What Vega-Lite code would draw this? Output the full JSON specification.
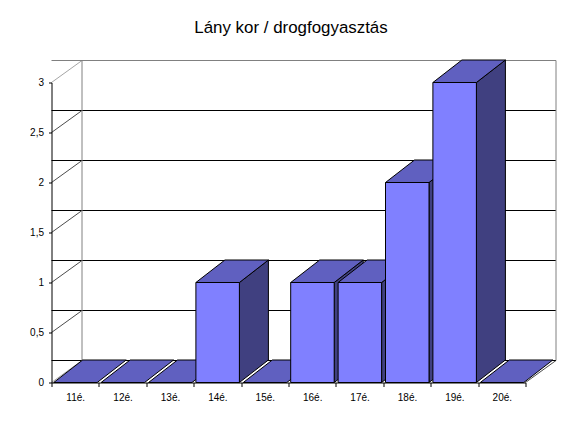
{
"$schema":"https://vega.github.io/schema/vega-lite/v6.json",
"width":474,"height":300,
"autosize":{"type":"none"},
"padding":{"left":51.5,"top":82.5,"right":59.5,"bottom":44.5},
"background":"white",
"title":{"text":"Lány kor / drogfogyasztás","font":"Liberation Sans","fontSize":16.9,"fontWeight":"normal","color":"#000000","anchor":"middle","dx":2.5,"offset":21},
"config":{"view":{"stroke":null}},
"datasets":{
"bars":[{"age":"11é.","value":0},{"age":"12é.","value":0},{"age":"13é.","value":0},{"age":"14é.","value":1},{"age":"15é.","value":0},{"age":"16é.","value":1},{"age":"17é.","value":1},{"age":"18é.","value":2},{"age":"19é.","value":3},{"age":"20é.","value":0}],
"grid":[{"v":0},{"v":0.5},{"v":1},{"v":1.5},{"v":2},{"v":2.5},{"v":3}]
},
"encoding":{
"x":{"field":"age","type":"nominal","title":null,"scale":{"type":"band","paddingInner":0,"paddingOuter":0,"round":false},
"axis":{"tickBand":"extent","labelAngle":0,"labelFont":"Liberation Sans","labelFontSize":10,"labelColor":"#000000","labelPadding":6,"tickSize":4,"tickColor":"#000000","domainColor":"#000000","grid":false,"zindex":1}},
"y":{"field":"value","type":"quantitative","title":null,"scale":{"domain":[0,3],"nice":false,"zero":true},
"axis":{"values":[0,0.5,1,1.5,2,2.5,3],"labelExpr":"replace(''+datum.value,'.',',')","labelFont":"Liberation Sans","labelFontSize":10,"labelColor":"#000000","labelPadding":5,"tickSize":3,"tickColor":"#000000","domainColor":"#000000","grid":false,"zindex":1}}
},
"layer":[
{"data":{"name":"grid"},"mark":{"type":"rule","xOffset":30.5,"x2Offset":30.5,"yOffset":-22,"strokeWidth":1},
 "encoding":{"x":null,"y":{"field":"v","type":"quantitative"},"stroke":{"condition":{"test":"datum.v===3","value":"#808080"},"value":"#000000"}}},
{"data":{"name":"grid"},"mark":{"type":"point","filled":false,"size":4,"strokeWidth":1,"shape":"M0,0L30.5,-22"},
 "encoding":{"x":{"datum":"11é.","bandPosition":0},"y":{"field":"v","type":"quantitative"},"stroke":{"condition":{"test":"datum.v===3||datum.v===0","value":"#808080"},"value":"#000000"}}},
{"data":{"values":[{"v":0,"w":3}]},"mark":{"type":"rule","stroke":"#808080","strokeWidth":1,"xOffset":30.5,"yOffset":-22,"y2Offset":-22},
 "encoding":{"x":{"datum":"11é.","bandPosition":0},"y":{"field":"v","type":"quantitative"},"y2":{"field":"w"}}},
{"data":{"values":[{"v":0,"w":3}]},"mark":{"type":"rule","stroke":"#808080","strokeWidth":1,"xOffset":30.5,"yOffset":-22,"y2Offset":-22},
 "encoding":{"x":{"datum":"20é.","bandPosition":1},"y":{"field":"v","type":"quantitative"},"y2":{"field":"w"}}},
{"data":{"values":[{"v":0}]},"mark":{"type":"point","filled":false,"size":4,"strokeWidth":1,"stroke":"#000000","shape":"M0,0L30.5,-22"},
 "encoding":{"x":{"datum":"20é.","bandPosition":1},"y":{"field":"v","type":"quantitative"}}},
{"data":{"name":"bars"},"transform":[{"filter":"datum.value>0"}],"mark":{"type":"point","filled":true,"size":4,"opacity":1,"fill":"#404080","stroke":"#000000","strokeWidth":1},
 "encoding":{"shape":{"field":"value","type":"ordinal","legend":null,"scale":{"domain":[1,2,3],"range":["M22,0L51,-22.5L51,77.5L22,100Z","M22,0L51,-22.5L51,177.5L22,200Z","M22,0L51,-22.5L51,277.5L22,300Z"]}}}},
{"data":{"name":"bars"},"mark":{"type":"point","filled":true,"size":4,"opacity":1,"fill":"#6060C0","stroke":"#000000","strokeWidth":1,"shape":"M-21.5,0L22,0L51,-22.5L7.5,-22.5Z"}},
{"data":{"name":"bars"},"transform":[{"filter":"datum.value>0"}],"mark":{"type":"bar","width":43.5,"xOffset":0.25,"fill":"#8080FF","stroke":"#000000","strokeWidth":1}}
]
}
